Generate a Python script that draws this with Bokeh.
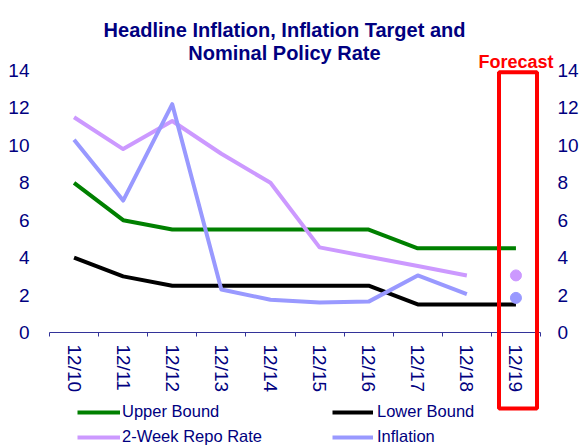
import numpy as np
from bokeh.plotting import figure
from bokeh.models import (Range1d, FixedTicker, LinearAxis, Legend, LegendItem,
                          Label, BoxAnnotation)
from bokeh.embed import file_html
from bokeh.resources import INLINE

# ---------------- data ----------------
categories = ["12/10", "12/11", "12/12", "12/13", "12/14",
              "12/15", "12/16", "12/17", "12/18", "12/19"]
upper_bound = [8.0, 6.0, 5.5, 5.5, 5.5, 5.5, 5.5, 4.5, 4.5, 4.5]
lower_bound = [4.0, 3.0, 2.5, 2.5, 2.5, 2.5, 2.5, 1.5, 1.5, 1.5]
repo_rate = [11.5, 9.8, 11.3, 9.55, 8.0, 4.55, 4.05, 3.55, 3.05]   # 12/10 .. 12/18
inflation = [10.3, 7.05, 12.2, 2.3, 1.75, 1.6, 1.65, 3.05, 2.05]   # 12/10 .. 12/18
forecast_category = "12/19"
repo_forecast = [3.05]
inflation_forecast = [1.85]
y_ticks = [0, 2, 4, 6, 8, 10, 12, 14]

title_lines = ["Headline Inflation, Inflation Target and", "Nominal Policy Rate"]

# ---------------- style / layout ----------------
W, H = 580, 446
NAVY = "#000080"
AXIS_COL = "#333399"
FONT = "Liberation Sans"
C_UP = "#008000"
C_LO = "#000000"
C_REPO = "#CC99FF"
C_INF = "#9999FF"
RED = "#FF0000"
LW = 4

# plotting area in canvas pixels (frame spans the whole canvas)
PX_LEFT, PX_RIGHT = 49, 540      # x extent of the category axis
PY_ZERO, PY_TOP = 332, 70        # pixel rows of y=0 and y=14
Y_MAX = 14

n = len(categories)
ux = (PX_RIGHT - PX_LEFT) / n            # pixels per category
uy = (PY_ZERO - PY_TOP) / Y_MAX          # pixels per unit


def dx(px):
    return (px - PX_LEFT) / ux


def dy(py):
    return (PY_ZERO - py) / uy


x_all = np.arange(n) + 0.5
x_hist = x_all[:len(repo_rate)]
x_fc = [x_all[categories.index(forecast_category)]]

p = figure(width=W, height=H, output_backend="svg", toolbar_location=None,
           x_range=Range1d(dx(0), dx(W)), y_range=Range1d(dy(H), dy(0)),
           x_axis_type=None, y_axis_type=None,
           min_border_left=0, min_border_right=0,
           min_border_top=0, min_border_bottom=0)
p.outline_line_color = None
p.xgrid.visible = False
p.ygrid.visible = False
p.background_fill_color = "white"
p.border_fill_color = "white"

# ---------------- axes ----------------
xaxis = LinearAxis(ticker=FixedTicker(ticks=list(x_all), minor_ticks=list(range(n + 1))),
                   fixed_location=0, bounds=(0, n))
xaxis.major_label_overrides = {float(x): c for x, c in zip(x_all, categories)}
xaxis.major_label_orientation = "vertical"
xaxis.major_tick_line_color = None
xaxis.major_tick_out = 0
xaxis.major_tick_in = 0
xaxis.minor_tick_line_color = AXIS_COL
xaxis.minor_tick_out = 4
xaxis.minor_tick_in = 0
xaxis.axis_line_color = AXIS_COL
xaxis.axis_line_width = 1
xaxis.major_label_standoff = 8
xaxis.major_label_text_font = FONT
xaxis.major_label_text_font_size = "19px"
xaxis.major_label_text_color = NAVY
p.add_layout(xaxis, "below")

for side, loc, standoff in (("left", 0, 20), ("right", n, 17)):
    ya = LinearAxis(ticker=FixedTicker(ticks=y_ticks), fixed_location=loc)
    ya.axis_line_color = None
    ya.major_tick_line_color = None
    ya.minor_tick_line_color = None
    ya.major_tick_out = 0
    ya.major_tick_in = 0
    ya.major_label_standoff = standoff
    ya.major_label_text_font = FONT
    ya.major_label_text_font_size = "19px"
    ya.major_label_text_color = NAVY
    p.add_layout(ya, side)

# ---------------- series ----------------
r_up = p.line(x_all, upper_bound, line_color=C_UP, line_width=LW, line_join="round")
r_lo = p.line(x_all, lower_bound, line_color=C_LO, line_width=LW, line_join="round")
r_repo = p.line(x_hist, repo_rate, line_color=C_REPO, line_width=LW, line_join="round")
r_inf = p.line(x_hist, inflation, line_color=C_INF, line_width=LW, line_join="round")
p.scatter(x_fc, repo_forecast, size=11, fill_color=C_REPO, line_color=C_REPO)
p.scatter(x_fc, inflation_forecast, size=11, fill_color=C_INF, line_color=C_INF)

# ---------------- forecast box ----------------
box = BoxAnnotation(left=dx(498.5), right=dx(536.5), bottom=dy(408), top=dy(71.7),
                    fill_color=None, fill_alpha=0, line_color=RED, line_alpha=1.0,
                    line_width=4, level="overlay")
p.add_layout(box)
p.add_layout(Label(x=x_fc[0], y=dy(61), text="Forecast", text_align="center",
                   text_baseline="alphabetic", text_font=FONT, text_font_size="18px",
                   text_font_style="bold", text_color=RED))

# ---------------- title ----------------
for txt, py in zip(title_lines, (29, 52)):
    p.add_layout(Label(x=dx(284), y=dy(py), text=txt, text_align="center",
                       text_baseline="alphabetic", text_font=FONT,
                       text_font_size="20px", text_font_style="bold",
                       text_color=NAVY))


# ---------------- legends ----------------
def make_legend(items, sx, glyph_w, standoff):
    return Legend(items=items, location=(sx, 0), orientation="vertical",
                  padding=0, margin=0, spacing=6, glyph_width=glyph_w, glyph_height=18,
                  label_height=18, label_standoff=standoff,
                  label_text_font=FONT, label_text_font_size="16.5px",
                  label_text_color=NAVY, border_line_color=None,
                  background_fill_alpha=0)


p.add_layout(make_legend([LegendItem(label="Upper Bound", renderers=[r_up]),
                          LegendItem(label="2-Week Repo Rate", renderers=[r_repo])],
                         77, 43, 2))
p.add_layout(make_legend([LegendItem(label="Lower Bound", renderers=[r_lo]),
                          LegendItem(label="Inflation", renderers=[r_inf])],
                         332, 41, 4))

open("out.html", "w").write(file_html(p, INLINE))
